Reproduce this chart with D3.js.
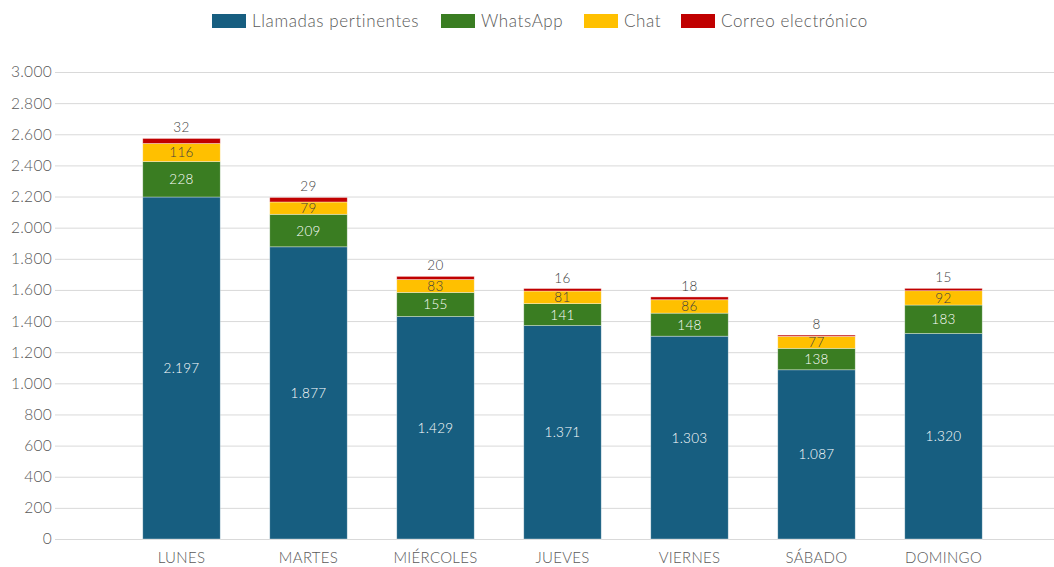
<!DOCTYPE html>
<html>
<head>
<meta charset="utf-8">
<script src="https://cdn.jsdelivr.net/npm/d3@7"></script>
<style>
  body { margin: 0; background: #fff; }
  text { font-family: "Century Gothic", Lato, "DejaVu Sans", sans-serif; font-weight: 300; }
</style>
</head>
<body>
<div id="chart"></div>
<script>
var days = ["LUNES", "MARTES", "MIÉRCOLES", "JUEVES", "VIERNES", "SÁBADO", "DOMINGO"];
var seriesNames = ["Llamadas pertinentes", "WhatsApp", "Chat", "Correo electrónico"];
var llamadas = [2197, 1877, 1429, 1371, 1303, 1087, 1320];
var whatsapp = [228, 209, 155, 141, 148, 138, 183];
var chat = [116, 79, 83, 81, 86, 77, 92];
var correo = [32, 29, 20, 16, 18, 8, 15];
var yTicks = [0, 200, 400, 600, 800, 1000, 1200, 1400, 1600, 1800, 2000, 2200, 2400, 2600, 2800, 3000];

var colors = ["#175e80", "#3a7d22", "#ffc000", "#c00000"];
var labelColors = ["#ffffff", "#ffffff", "#404040", "#404040"];

var width = 1054, height = 567;
var plotLeft = 55, plotRight = 1054, plotTop = 72, plotBottom = 539;

var rows = days.map(function(d, i) {
    return { day: d, s0: llamadas[i], s1: whatsapp[i], s2: chat[i], s3: correo[i] };
});
var stacked = d3.stack().keys(["s0", "s1", "s2", "s3"])(rows);

var svg = d3.select("#chart").append("svg")
    .attr("width", width)
    .attr("height", height);

var x = d3.scaleBand()
    .domain(days)
    .range([118, 1007])
    .paddingInner(0.39)
    .paddingOuter(0.195);

var y = d3.scaleLinear()
    .domain([0, 3000])
    .range([plotBottom, plotTop]);

var fmt = d3.formatLocale({ decimal: ",", thousands: ".", grouping: [3], currency: ["", ""] }).format(",d");

// gridlines
svg.append("g").selectAll("line")
    .data(yTicks)
    .enter().append("line")
    .attr("x1", plotLeft).attr("x2", plotRight)
    .attr("y1", d => y(d) + 0.5).attr("y2", d => y(d) + 0.5)
    .style("stroke", "#d9d9d9")
    .style("stroke-width", 1);

// y axis labels
var yAxis = d3.axisLeft(y).tickValues(yTicks).tickFormat(fmt).tickSize(0).tickPadding(3);
var yg = svg.append("g").attr("transform", "translate(" + plotLeft + ",0)").call(yAxis);
yg.select(".domain").remove();
yg.selectAll("text").style("font-size", "15.5px").style("fill", "#595959").style("letter-spacing", "0.3px");

// x axis labels
var xAxis = d3.axisBottom(x).tickSize(0).tickPadding(13);
var xg = svg.append("g").attr("transform", "translate(0," + plotBottom + ")").call(xAxis);
xg.select(".domain").remove();
xg.selectAll("text").style("font-size", "15px").style("fill", "#595959").style("letter-spacing", "0.3px");

// bars
var layers = svg.append("g").selectAll("g")
    .data(stacked)
    .enter().append("g")
    .style("fill", (d, i) => colors[i]);

layers.selectAll("rect")
    .data(d => d)
    .enter().append("rect")
    .attr("x", d => x(d.data.day))
    .attr("width", x.bandwidth())
    .attr("y", d => y(d[1]))
    .attr("height", d => y(d[0]) - y(d[1]))
    .style("stroke", "#ffffff")
    .style("stroke-opacity", 0.5)
    .style("stroke-width", 0.7);

// value labels
stacked.forEach(function(layer, i) {
    svg.append("g").selectAll("text")
        .data(layer)
        .enter().append("text")
        .attr("x", d => x(d.data.day) + x.bandwidth() / 2)
        .attr("y", function(d) {
            if (i == 3) return y(d[1]) - 6;
            return (y(d[0]) + y(d[1])) / 2 + 5;
        })
        .attr("text-anchor", "middle")
        .style("font-size", "13.5px")
        .style("letter-spacing", "0.3px")
        .style("fill", i == 3 ? "#404040" : labelColors[i])
        .text(d => fmt(d[1] - d[0]));
});

// legend
var legendX = [212, 441, 584, 681];
var legend = svg.append("g").selectAll("g")
    .data(seriesNames)
    .enter().append("g")
    .attr("transform", (d, i) => "translate(" + legendX[i] + ",14)");
legend.append("rect")
    .attr("width", 34).attr("height", 14)
    .style("fill", (d, i) => colors[i]);
legend.append("text")
    .attr("x", 40).attr("y", 13)
    .style("font-size", "17px")
    .style("letter-spacing", "0.6px")
    .style("fill", "#595959")
    .text(d => d);
</script>
</body>
</html>
